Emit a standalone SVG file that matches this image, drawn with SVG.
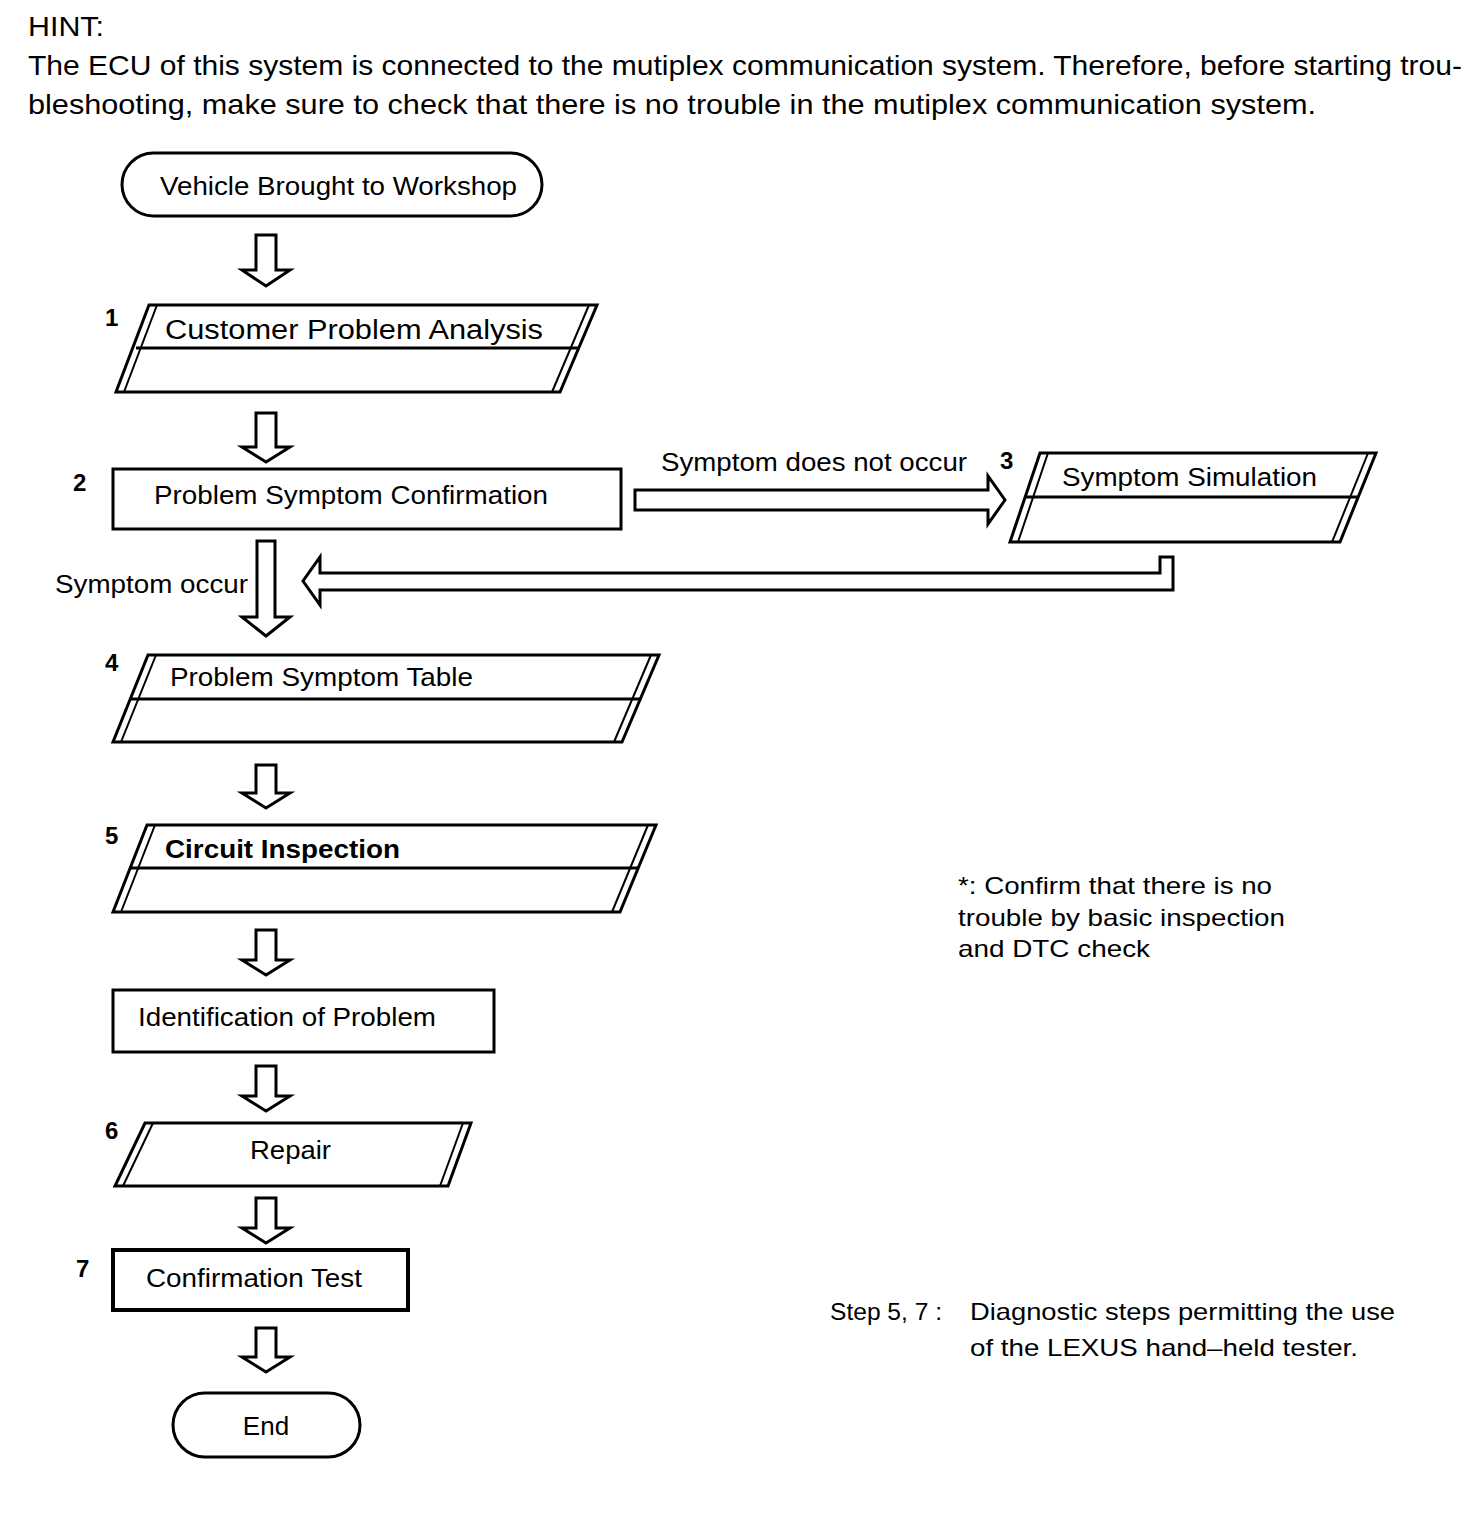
<svg xmlns="http://www.w3.org/2000/svg" width="1472" height="1538" viewBox="0 0 1472 1538">
<style>
text{font-family:"Liberation Sans",Arial,sans-serif;fill:#000}
.hd{font-size:28px}
.t{font-size:26px}
.n{font-size:24px;font-weight:bold}
.nt{font-size:24px}
.box{fill:#fff;stroke:#000;stroke-width:3}
.in{fill:none;stroke:#000;stroke-width:2}
.arr{fill:#fff;stroke:#000;stroke-width:3;stroke-linejoin:miter}
</style>
<rect width="1472" height="1538" fill="#fff"/>
<g id="header">
<text class="hd" x="28" y="36" textLength="76" lengthAdjust="spacingAndGlyphs">HINT:</text>
<text class="hd" x="28" y="75" textLength="1434" lengthAdjust="spacingAndGlyphs">The ECU of this system is connected to the mutiplex communication system. Therefore, before starting trou-</text>
<text class="hd" x="28" y="114" textLength="1288" lengthAdjust="spacingAndGlyphs">bleshooting, make sure to check that there is no trouble in the mutiplex communication system.</text>
</g>
<g id="connectors">
<path class="arr" d="M256,235 H276 V270 H290 L266,286 L242,270 H256 Z"/>
<path class="arr" d="M256,413 H276 V447 H290 L266,462 L242,447 H256 Z"/>
<path class="arr" d="M257,541 H275 V617 H290 L266,636 L242,617 H257 Z"/>
<path class="arr" d="M256,765 H276 V793 H290 L266,808 L242,793 H256 Z"/>
<path class="arr" d="M256,930 H276 V960 H290 L266,975 L242,960 H256 Z"/>
<path class="arr" d="M256,1066 H276 V1096 H290 L266,1111 L242,1096 H256 Z"/>
<path class="arr" d="M256,1198 H276 V1228 H290 L266,1243 L242,1228 H256 Z"/>
<path class="arr" d="M256,1328 H276 V1357 H290 L266,1372 L242,1357 H256 Z"/>
<path class="arr" d="M635,490 H988 V476 L1005,500 L988,524 V510 H635 Z"/>
<path class="arr" d="M1160,557 H1173 V590 H320 V605 L303,581 L320,557 V573 H1160 Z"/>
<text class="t" x="661" y="471" textLength="306" lengthAdjust="spacingAndGlyphs">Symptom does not occur</text>
<text class="t" x="55" y="593" textLength="193" lengthAdjust="spacingAndGlyphs">Symptom occur</text>
</g>
<g id="start">
<rect class="box" x="122" y="153" width="420" height="63" rx="31.5"/>
<text class="t" x="160" y="195" textLength="357" lengthAdjust="spacingAndGlyphs">Vehicle Brought to Workshop</text>
</g>
<g id="step1">
<polygon class="box" points="149,305 597,305 560,392 116,392"/>
<line class="in" x1="157" y1="305" x2="124" y2="392"/>
<line class="in" x1="589" y1="305" x2="552" y2="392"/>
<line class="in" x1="136" y1="348" x2="578" y2="348" style="stroke-width:3"/>
<text class="t" x="165" y="339" textLength="378" lengthAdjust="spacingAndGlyphs" style="font-size:27px">Customer Problem Analysis</text>
<text class="n" x="105" y="326">1</text>
</g>
<g id="step2">
<rect class="box" x="113" y="469" width="508" height="60"/>
<text class="t" x="154" y="504" textLength="394" lengthAdjust="spacingAndGlyphs">Problem Symptom Confirmation</text>
<text class="n" x="73" y="491">2</text>
</g>
<g id="step3">
<polygon class="box" points="1040,453 1376,453 1340,542 1010,542"/>
<line class="in" x1="1048" y1="453" x2="1018" y2="542"/>
<line class="in" x1="1368" y1="453" x2="1332" y2="542"/>
<line class="in" x1="1025" y1="497" x2="1357" y2="497" style="stroke-width:3"/>
<text class="t" x="1062" y="486" textLength="255" lengthAdjust="spacingAndGlyphs">Symptom Simulation</text>
<text class="n" x="1000" y="469">3</text>
</g>
<g id="step4">
<polygon class="box" points="148,655 659,655 622,742 113,742"/>
<line class="in" x1="156" y1="655" x2="121" y2="742"/>
<line class="in" x1="651" y1="655" x2="614" y2="742"/>
<line class="in" x1="131" y1="699" x2="640" y2="699" style="stroke-width:3"/>
<text class="t" x="170" y="686" textLength="303" lengthAdjust="spacingAndGlyphs">Problem Symptom Table</text>
<text class="n" x="105" y="671">4</text>
</g>
<g id="step5">
<polygon class="box" points="147,825 656,825 620,912 113,912"/>
<line class="in" x1="155" y1="825" x2="121" y2="912"/>
<line class="in" x1="648" y1="825" x2="612" y2="912"/>
<line class="in" x1="130" y1="868" x2="638" y2="868" style="stroke-width:3"/>
<text class="t" x="165" y="858" textLength="235" lengthAdjust="spacingAndGlyphs" style="font-weight:bold">Circuit Inspection</text>
<text class="n" x="105" y="844">5</text>
</g>
<g id="identify">
<rect class="box" x="113" y="990" width="381" height="62"/>
<text class="t" x="138" y="1026" textLength="298" lengthAdjust="spacingAndGlyphs">Identification of Problem</text>
</g>
<g id="step6">
<polygon class="box" points="145,1123 471,1123 448,1186 115,1186"/>
<line class="in" x1="153" y1="1123" x2="123" y2="1186"/>
<line class="in" x1="463" y1="1123" x2="440" y2="1186"/>
<text class="t" x="250" y="1159" textLength="81" lengthAdjust="spacingAndGlyphs">Repair</text>
<text class="n" x="105" y="1139">6</text>
</g>
<g id="step7">
<rect class="box" x="113" y="1250" width="295" height="60" style="stroke-width:4"/>
<text class="t" x="146" y="1287" textLength="216" lengthAdjust="spacingAndGlyphs">Confirmation Test</text>
<text class="n" x="76" y="1277">7</text>
</g>
<g id="end">
<rect class="box" x="173" y="1393" width="187" height="64" rx="32"/>
<text class="t" x="266" y="1435" text-anchor="middle">End</text>
</g>
<g id="notes">
<text class="nt" x="958" y="894" textLength="314" lengthAdjust="spacingAndGlyphs">*: Confirm that there is no</text>
<text class="nt" x="958" y="926" textLength="327" lengthAdjust="spacingAndGlyphs">trouble by basic inspection</text>
<text class="nt" x="958" y="957" textLength="192" lengthAdjust="spacingAndGlyphs">and DTC check</text>
<text class="nt" x="830" y="1320" textLength="112" lengthAdjust="spacingAndGlyphs">Step 5, 7 :</text>
<text class="nt" x="970" y="1320" textLength="425" lengthAdjust="spacingAndGlyphs">Diagnostic steps permitting the use</text>
<text class="nt" x="970" y="1356" textLength="388" lengthAdjust="spacingAndGlyphs">of the LEXUS hand–held tester.</text>
</g>
</svg>
